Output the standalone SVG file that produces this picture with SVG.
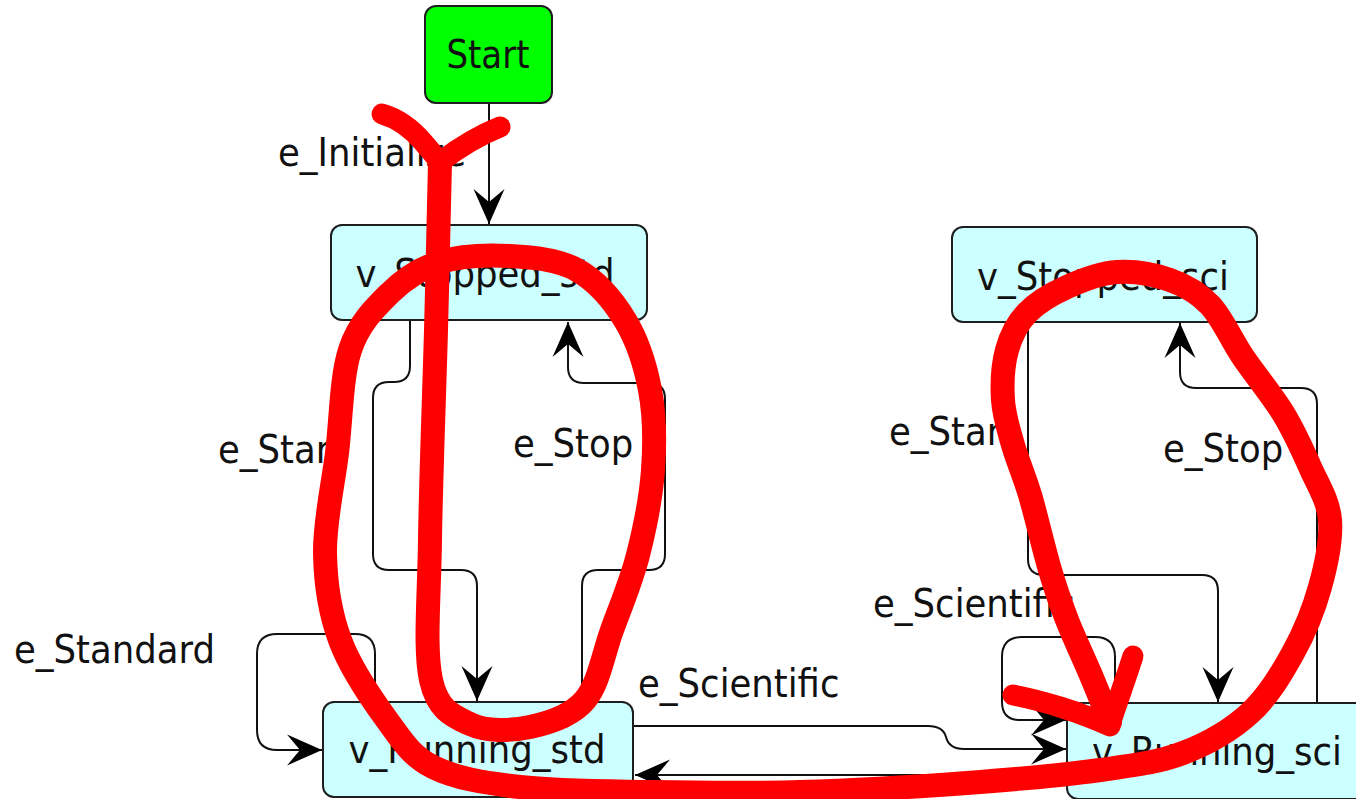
<svg xmlns="http://www.w3.org/2000/svg" width="1356" height="799" viewBox="0 0 1356 799">
  <style>
    .node { stroke: #1e1e1e; stroke-width: 2; }
    .state { fill: #ccffff; }
    .start { fill: #00ff00; }
    .lbl { font-family: "DejaVu Sans", "Noto Sans", sans-serif; font-size: 35.5px; fill: #111; }
    .mid { text-anchor: middle; }
    .edge { fill: none; stroke: #111; stroke-width: 2; marker-end: url(#arrow); }
    .ink { fill: none; stroke: #ff0000; stroke-linecap: round; stroke-linejoin: round; }
  </style>
  <defs>
    <marker id="arrow" markerUnits="userSpaceOnUse" markerWidth="40" markerHeight="36" viewBox="-36 -18 37 36" refX="0" refY="0" orient="auto" overflow="visible">
      <path d="M0,0 L-35,-15.5 L-22,0 L-35,15.5 Z" fill="#000"/>
    </marker>
  </defs>
  <rect width="1356" height="799" fill="#ffffff"/>

  <!-- transitions -->
  <g id="connectors">
    <path id="e_initialize" class="edge" d="M489,104 V224"/>
    <path id="e_start_std" class="edge" d="M410,321 V366 Q410,382 394,382 H389 Q373,382 373,398 V554 Q373,570 389,570 H461 Q477,570 477,586 V701"/>
    <path id="e_stop_std" class="edge" d="M582,702 V586 Q582,570 598,570 H649 Q665,570 665,554 V399 Q665,383 649,383 H584 Q568,383 568,367 V322"/>
    <path id="e_standard_loop" class="edge" d="M375,702 V654 Q375,634 355,634 H277 Q257,634 257,654 V730 Q257,750 277,750 H322"/>
    <path id="e_scientific_to_sci" class="edge" d="M633,726 H928 Q943,726 946,737 Q949,749 964,749 H1066"/>
    <path id="e_standard_to_std" class="edge" d="M1067,783 H957 Q946,783 943,779 Q940,775 929,775 H635"/>
    <path id="e_start_sci" class="edge" d="M1028,323 V559 Q1028,575 1044,575 H1202 Q1218,575 1218,591 V702"/>
    <path id="e_stop_sci" class="edge" d="M1317,703 V404 Q1317,388 1301,388 H1196 Q1180,388 1180,372 V323"/>
    <path id="e_scientific_loop" class="edge" d="M1115,703 V657 Q1115,637 1095,637 H1022 Q1002,637 1002,657 V702 Q1002,720 1020,720 H1066"/>
  </g>

  <!-- edge labels -->
  <g id="edge-labels">
    <text class="lbl" transform="translate(278,166) scale(1,1.09)">e_Initialize</text>
    <text class="lbl" transform="translate(218,463) scale(1,1.09)">e_Start</text>
    <text class="lbl" transform="translate(513,457) scale(1,1.09)">e_Stop</text>
    <text class="lbl" transform="translate(14,663) scale(1,1.09)">e_Standard</text>
    <text class="lbl" transform="translate(638,697) scale(1,1.09)">e_Scientific</text>
    <text class="lbl" transform="translate(889,445) scale(1,1.09)">e_Start</text>
    <text class="lbl" transform="translate(1163,462) scale(1,1.09)">e_Stop</text>
    <text class="lbl" transform="translate(873,617) scale(1,1.09)">e_Scientific</text>
  </g>

  <g id="n_start">
    <rect class="node start" x="425" y="6" width="127" height="97" rx="11"/>
    <text class="lbl mid" transform="translate(488,68) scale(0.96,1.12)">Start</text>
  </g>
  <g id="n_stopped_std">
    <rect class="node state" x="331" y="225" width="316" height="95" rx="11"/>
    <text class="lbl mid" transform="translate(485,287) scale(1,1.09)">v_Stopped_std</text>
  </g>
  <g id="n_running_std">
    <rect class="node state" x="323" y="702" width="310" height="95" rx="11"/>
    <text class="lbl mid" transform="translate(477,763) scale(1,1.09)">v_Running_std</text>
  </g>
  <g id="n_stopped_sci">
    <rect class="node state" x="952" y="227" width="305" height="95" rx="11"/>
    <text class="lbl mid" transform="translate(1103,290) scale(1,1.09)">v_Stopped_sci</text>
  </g>
  <g id="n_running_sci">
    <rect class="node state" x="1067" y="703" width="320" height="96" rx="11"/>
    <text class="lbl mid" transform="translate(1217,765) scale(1,1.09)">v_Running_sci</text>
  </g>

  <!-- hand-drawn red pen strokes on top -->
  <g id="pen-marks">
    <path class="ink" stroke-width="21" d="M382,114 C396,118 411,128 423,142 L440,162"/>
    <path class="ink" stroke-width="21" d="M500,127 C485,133 465,143 440,162"/>
    <path class="ink" stroke-width="24" d="M440,162 C439.3,190 437.7,267 436,330
      C434.3,393 430.8,481.7 430,540
      C429.2,598.3 424.3,649.3 431,680
      C437.7,710.7 453.5,716.2 470,724
      C486.5,731.8 510.8,731 530,727
      C549.2,723 571.3,716.2 585,700
      C598.7,683.8 603.2,654.2 612,630
      C620.8,605.8 631.2,581.7 638,555
      C644.8,528.3 651,497.5 653,470
      C655,442.5 654.7,415 650,390
      C645.3,365 637.2,340 625,320
      C612.8,300 596.2,280.7 577,270
      C557.8,259.3 532.8,257.3 510,256
      C487.2,254.7 460,255.8 440,262
      C420,268.2 405,278.3 390,293
      C375,307.7 358.8,323.3 350,350
      C341.2,376.7 341.2,419.2 337,453
      C332.8,486.8 324.5,521.8 325,553
      C325.5,584.2 329.7,612.2 340,640
      C350.3,667.8 371.5,698.8 387,720
      C402.5,741.2 410.8,755.8 433,767
      C455.2,778.2 483.8,782.8 520,787
      C556.2,791.2 603.3,791.2 650,792
      C696.7,792.8 747.2,793.5 800,792
      C852.8,790.5 917,786.7 967,783
      C1017,779.3 1064,775 1100,770
      C1136,765 1158,762.5 1183,753
      C1208,743.5 1231.7,729.7 1250,713
      C1268.3,696.3 1281.3,674 1293,653
      C1304.7,632 1313.8,609.2 1320,587
      C1326.2,564.8 1331.7,540 1330,520
      C1328.3,500 1317.8,484.8 1310,467
      C1302.2,449.2 1294.2,431.3 1283,413
      C1271.8,394.7 1255.2,375 1243,357
      C1230.8,339 1222.2,317.8 1210,305
      C1197.8,292.2 1185.5,285.5 1170,280
      C1154.5,274.5 1134.2,270.8 1117,272
      C1099.8,273.2 1082,280.2 1067,287
      C1052,293.8 1037,302.5 1027,313
      C1017,323.5 1011,335.5 1007,350
      C1003,364.5 1002,384.2 1003,400
      C1004,415.8 1008.5,429.2 1013,445
      C1017.5,460.8 1023.8,474.2 1030,495
      C1036.2,515.8 1043.8,549.2 1050,570
      C1056.2,590.8 1060.3,602.8 1067,620
      C1073.7,637.2 1082.8,656 1090,673
      C1097.2,690 1106.7,713.8 1110,722"/>
    <path class="ink" stroke-width="21" d="M1110,724 C1118,700 1126,678 1133,656"/>
    <path class="ink" stroke-width="21" d="M1013,695 C1040,700 1080,712 1110,726"/>
  </g>
</svg>
